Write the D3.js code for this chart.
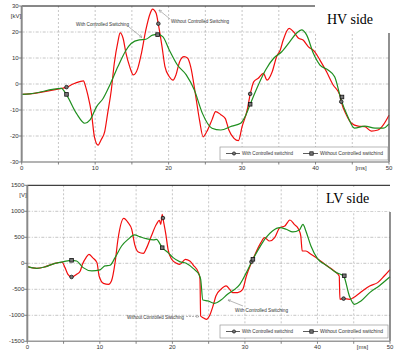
<!DOCTYPE html>
<html lang="en">
<head>
<meta charset="UTF-8">
<title>HV / LV side</title>
<script src="https://d3js.org/d3.v7.min.js"></script>
<style>
  body { margin: 0; background: #fff; }
  .tick-label { font-family: "Liberation Sans", Arial, sans-serif; font-size: 6px; fill: #333; }
  .note { font-family: "Liberation Sans", Arial, sans-serif; font-size: 5px; fill: #333; }
  .side { font-family: "Liberation Serif", "Times New Roman", serif; font-size: 14px; fill: #000; }
</style>
</head>
<body>
<div id="chart"></div>
<script>
// HV side (kV) - with controlled switching (green)
const hvWithT = [0, 1.1, 5.4, 6.1, 7.45, 8.6, 9.3, 10.2, 11.1, 12.0, 13.1, 14.2, 14.9, 16.0, 16.9, 17.8, 18.5, 19.2, 20.1, 21.2, 22.4, 23.5, 24.6, 25.9, 27.1, 28.6, 29.8, 30.4, 31.1, 32.0, 33.2, 34.3, 35.4, 36.5, 37.4, 38.1, 38.8, 39.7, 40.6, 41.7, 42.6, 43.5, 44.4, 45.3, 46.7, 48.1, 49.2, 50];
const hvWithV = [-4, -3.8, -1.7, -4.2, -11.3, -15.1, -13.8, -8.7, -5.5, -0.4, 6.7, 13, 15.6, 17, 17.2, 18.8, 19.1, 18.2, 13, 7.3, 3.5, -2.3, -11.3, -17, -17.7, -16.2, -15.1, -12.6, -7.8, -1.7, 5.4, 9.9, 12.4, 16.3, 19.5, 20.8, 18.8, 11.8, 7.3, 5.4, 2.8, -6.2, -12.6, -17, -16.2, -17, -17, -15.3];
// HV side - without controlled switching (red)
const hvWithoutT = [0, 1.1, 5.4, 6.1, 7.0, 7.9, 8.4, 8.7, 9.0, 9.5, 9.9, 10.4, 10.8, 11.3, 11.7, 12.2, 12.6, 13.1, 13.4, 13.8, 14.2, 14.7, 15.2, 15.8, 16.3, 16.9, 17.5, 17.8, 18.3, 18.6, 19.1, 19.5, 20.1, 20.6, 21.0, 21.5, 22.1, 22.6, 23.0, 23.7, 24.2, 24.7, 25.2, 25.9, 26.4, 27.1, 27.7, 28.2, 28.9, 29.5, 30.0, 30.7, 31.1, 31.6, 32.2, 32.9, 33.4, 34.1, 34.7, 35.2, 35.6, 36.4, 37.0, 37.7, 38.3, 39.0, 39.9, 40.6, 41.5, 42.4, 43.3, 43.5, 44.2, 44.9, 45.8, 46.7, 47.6, 48.5, 49.2, 50];
const hvWithoutV = [-4, -3.8, -1.7, -1.3, 0, 0.9, 1.2, -1, -4.2, -11.3, -20.3, -23.5, -21.5, -18.3, -11.3, -2.3, 7.9, 16.3, 19.7, 17.6, 11.8, 6.7, 3.5, 6, 11.8, 20.8, 27.2, 28.8, 27.2, 23, 14.4, 6.7, 2.8, 1.5, 3.5, 8.6, 10.5, 9.9, 6.7, -4.9, -13.8, -20.3, -18.3, -13.8, -10.6, -11.8, -13.2, -17.7, -20.9, -21.8, -16.4, -10, -4, 0.9, 2.2, 4.1, 1.5, 4.7, 10.5, 13.1, 16.9, 21.4, 20.1, 17.6, 16.9, 14.4, 12.4, 9.2, 4.7, -0.4, -4.2, -6.8, -11.9, -15.1, -16.2, -16.4, -18.1, -17.7, -15.8, -12];
// switching instants marked on the curves
const hvWithMarkT = [6.1, 18.5, 31.1, 43.6];
const hvWithMarkV = [-4.0, 19.0, -7.8, -5.0];
const hvWithoutMarkT = [6.1, 18.6, 31.1, 43.5];
const hvWithoutMarkV = [-1.2, 23.2, -3.8, -6.8];

// LV side (V) - with controlled switching (green)
const lvWithT = [0, 1.3, 2.4, 3.8, 5.0, 6.1, 6.8, 7.7, 8.9, 10.0, 10.7, 11.4, 12.1, 13.0, 13.9, 14.8, 15.5, 16.4, 17.4, 17.8, 18.6, 19.4, 20.1, 21.0, 21.9, 22.9, 23.7, 23.9, 24.2, 24.9, 25.8, 26.7, 27.6, 28.6, 29.3, 30.2, 31.1, 32.0, 32.9, 33.8, 34.8, 35.7, 36.6, 37.5, 38.0, 38.4, 39.1, 40.0, 41.2, 42.6, 43.6, 44.4, 45.1, 46.0, 47.2, 48.5, 50];
const lvWithV = [-64, -96, -70, 0, 32, 58, 45, -83, -147, -128, -51, -38, 109, 333, 462, 545, 513, 474, 449, 462, 301, 205, 109, 32, 0, -103, -224, -308, -705, -724, -769, -705, -596, -500, -404, -179, 77, 301, 494, 622, 686, 654, 603, 641, 750, 622, 333, 90, -38, -179, -244, -628, -788, -724, -564, -436, -260];
// LV side - without controlled switching (red)
const lvWithoutT = [0, 1.3, 2.4, 3.8, 4.8, 5.2, 5.6, 6.1, 6.8, 7.3, 7.6, 8.1, 8.5, 9.0, 9.6, 9.9, 10.5, 11.2, 11.6, 12.1, 12.5, 13.3, 13.9, 14.4, 14.8, 15.3, 16.0, 16.4, 17.1, 17.8, 18.2, 18.4, 18.6, 18.7, 19.1, 19.4, 19.9, 20.6, 21.0, 21.8, 22.4, 22.9, 23.6, 23.8, 23.9, 24.2, 24.7, 25.1, 25.6, 26.0, 26.7, 27.4, 27.9, 28.3, 29.0, 29.7, 30.2, 30.9, 31.5, 32.2, 32.7, 33.4, 34.1, 34.8, 35.5, 36.2, 36.8, 37.4, 37.7, 37.9, 38.4, 39.1, 40.0, 41.2, 42.3, 43.0, 43.1, 43.6, 44.4, 45.3, 46.2, 47.2, 48.3, 49.2, 50];
const lvWithoutV = [-64, -96, -70, 0, 20, -83, -212, -263, -212, -147, -19, 109, 173, 109, 13, -244, -385, -404, -340, 13, 462, 865, 782, 654, 365, 218, 192, 282, 526, 750, 827, 750, 942, 865, 558, 269, 77, 0, -19, 77, 45, -38, -179, -295, -1013, -1045, -1077, -1013, -821, -628, -500, -436, -500, -564, -564, -500, -244, 13, 205, 397, 494, 429, 494, 686, 718, 833, 750, 654, 526, 237, 237, 173, 90, -38, -147, -244, -692, -679, -692, -628, -532, -436, -372, -244, -120];
const lvWithMarkT = [6.1, 18.6, 31.1, 43.7];
const lvWithMarkV = [58, 300, 77, -240];
const lvWithoutMarkT = [6.1, 18.7, 30.9, 43.6];
const lvWithoutMarkV = [-263, 870, 30, -679];

// axis ticks and labels
const hvYTicks = [-30, -20, -10, 0, 10, 20, 30];
const lvYTicks = [-1500, -1000, -500, 0, 500, 1000, 1500];
const xTicks = [0, 5, 10, 15, 20, 25, 30, 35, 40, 45, 50];
const xLabels = [0, 10, 20, 30, 40, 50];
const legendNames = ["With Controlled switchind", "Without Controlled switchind"];

const red = "#f20d0d", green = "#1f8f1f";

const svg = d3.select("#chart").append("svg")
  .attr("width", 407).attr("height", 352)
  .style("display", "block");

const defs = svg.append("defs");
defs.append("marker")
  .attr("id", "arrow").attr("viewBox", "0 0 6 6")
  .attr("refX", 5.5).attr("refY", 3)
  .attr("markerWidth", 5).attr("markerHeight", 5)
  .attr("orient", "auto")
  .append("path").attr("d", "M0,0.5 L6,3 L0,5.5").attr("fill", "none")
  .attr("stroke", "#888").attr("stroke-width", 0.8);

function drawPanel(p) {
  const x = d3.scaleLinear().domain([0, 50]).range([p.left, p.right]);
  const y = d3.scaleLinear().domain([p.yTicks[0], p.yTicks[p.yTicks.length - 1]]).range([p.bottom, p.top]);
  const g = svg.append("g");

  // grid
  g.selectAll(".hgrid").data(p.yTicks.slice(1, -1)).join("line")
    .attr("x1", p.left).attr("x2", p.right)
    .attr("y1", d => y(d)).attr("y2", d => y(d))
    .attr("stroke", "#b8b8b8").attr("stroke-width", 0.8).attr("stroke-dasharray", "3,1.5,1,1.5");
  g.selectAll(".vgrid").data(xTicks.slice(1, -1)).join("line")
    .attr("x1", d => x(d)).attr("x2", d => x(d))
    .attr("y1", p.top).attr("y2", p.bottom)
    .attr("stroke", "#b8b8b8").attr("stroke-width", 0.8).attr("stroke-dasharray", "2,2");

  // curves
  const line = d3.line().curve(d3.curveMonotoneX).x(d => x(d[0])).y(d => y(d[1]));
  g.append("path").datum(d3.zip(p.withoutT, p.withoutV)).attr("d", line)
    .attr("fill", "none").attr("stroke", red).attr("stroke-width", 1.2);
  g.append("path").datum(d3.zip(p.withT, p.withV)).attr("d", line)
    .attr("fill", "none").attr("stroke", green).attr("stroke-width", 1.2);

  // markers
  g.selectAll(".mc").data(d3.zip(p.withoutMarkT, p.withoutMarkV)).join("circle")
    .attr("cx", d => x(d[0])).attr("cy", d => y(d[1])).attr("r", 1.8)
    .attr("fill", "#777").attr("stroke", "#111").attr("stroke-width", 0.8);
  g.selectAll(".ms").data(d3.zip(p.withMarkT, p.withMarkV)).join("rect")
    .attr("x", d => x(d[0]) - 1.8).attr("y", d => y(d[1]) - 1.8)
    .attr("width", 3.6).attr("height", 3.6)
    .attr("fill", "#777").attr("stroke", "#111").attr("stroke-width", 0.8);

  // label cover (white box) + frame
  g.append("rect").attr("x", p.cover[0]).attr("y", p.cover[1])
    .attr("width", p.cover[2]).attr("height", p.cover[3]).attr("fill", "#fff");
  g.append("line").attr("x1", p.left).attr("x2", p.topEnd)
    .attr("y1", p.top).attr("y2", p.top).attr("stroke", "#111").attr("stroke-width", 1);
  g.append("line").attr("x1", p.right).attr("x2", p.right)
    .attr("y1", p.rightStart).attr("y2", p.bottom).attr("stroke", "#555").attr("stroke-width", 1.3);
  g.append("line").attr("x1", p.left).attr("x2", p.left)
    .attr("y1", p.top).attr("y2", p.bottom).attr("stroke", "#8a8a8a").attr("stroke-width", 2);
  g.append("line").attr("x1", p.left).attr("x2", p.right)
    .attr("y1", p.bottom).attr("y2", p.bottom).attr("stroke", "#9a9a9a").attr("stroke-width", 1.5);

  // y ticks
  g.selectAll(".yt").data(p.yTicks).join("line")
    .attr("x1", p.left - 3).attr("x2", p.left)
    .attr("y1", d => y(d)).attr("y2", d => y(d)).attr("stroke", "#666").attr("stroke-width", 0.8);
  g.selectAll(".yl").data(p.yTicks).join("text").attr("class", "tick-label")
    .attr("x", p.left - 3).attr("y", d => y(d) + 2)
    .attr("text-anchor", "end").text(d => d);
  g.append("text").attr("class", "tick-label").attr("x", p.unitX).attr("y", y(p.yTicks[p.yTicks.length - 1]) + 12)
    .attr("text-anchor", "middle").text(p.unit);

  // x ticks
  g.selectAll(".xt").data(xTicks).join("line")
    .attr("x1", d => x(d)).attr("x2", d => x(d))
    .attr("y1", p.bottom).attr("y2", p.bottom + 2.5).attr("stroke", "#666").attr("stroke-width", 0.8);
  g.selectAll(".xl").data(xLabels).join("text").attr("class", "tick-label")
    .attr("x", d => x(d)).attr("y", p.bottom + 8).attr("text-anchor", "middle").text(d => d);
  g.append("text").attr("class", "tick-label").attr("x", x(46.2)).attr("y", p.bottom + 8)
    .attr("text-anchor", "middle").text("[ms]");

  // side title
  g.append("text").attr("class", "side").attr("x", p.titleX).attr("y", p.titleY).text(p.title);

  // annotations
  p.notes.forEach(n => {
    g.append("text").attr("class", "note").attr("x", n.tx).attr("y", n.ty)
      .attr("textLength", n.tw).attr("lengthAdjust", "spacingAndGlyphs").text(n.text);
    g.append("line").attr("x1", n.l[0]).attr("y1", n.l[1]).attr("x2", n.l[2]).attr("y2", n.l[3])
      .attr("stroke", "#999").attr("stroke-width", 0.7)
      .attr("stroke-dasharray", n.dash ? "2,1" : null)
      .attr("marker-end", "url(#arrow)");
  });

  // legend
  const lg = g.append("g");
  lg.append("rect").attr("x", 220).attr("y", p.legendY - 6.5).attr("width", 168).attr("height", 13)
    .attr("fill", "#fff").attr("stroke", "#999").attr("stroke-width", 0.7);
  const items = [
    {x0: 226, x1: 240, m: "circle", tx: 242, tw: 51, name: legendNames[0]},
    {x0: 303, x1: 318, m: "square", tx: 320, tw: 63, name: legendNames[1]}
  ];
  items.forEach(it => {
    lg.append("line").attr("x1", it.x0).attr("x2", it.x1)
      .attr("y1", p.legendY).attr("y2", p.legendY).attr("stroke", "#333").attr("stroke-width", 0.8);
    const mx = (it.x0 + it.x1) / 2 + 1;
    if (it.m === "circle") {
      lg.append("circle").attr("cx", mx).attr("cy", p.legendY).attr("r", 1.6)
        .attr("fill", "#777").attr("stroke", "#111").attr("stroke-width", 0.7);
    } else {
      lg.append("rect").attr("x", mx - 1.7).attr("y", p.legendY - 1.7).attr("width", 3.4).attr("height", 3.4)
        .attr("fill", "#777").attr("stroke", "#111").attr("stroke-width", 0.7);
    }
    lg.append("text").attr("class", "note").attr("x", it.tx).attr("y", p.legendY + 1.7)
      .attr("textLength", it.tw).attr("lengthAdjust", "spacingAndGlyphs").text(it.name);
  });
}

drawPanel({
  left: 21.7, right: 389, top: 6, bottom: 162,
  yTicks: hvYTicks, unit: "[kV]", unitX: 16,
  withT: hvWithT, withV: hvWithV, withoutT: hvWithoutT, withoutV: hvWithoutV,
  withMarkT: hvWithMarkT, withMarkV: hvWithMarkV, withoutMarkT: hvWithoutMarkT, withoutMarkV: hvWithoutMarkV,
  cover: [315, 0, 90, 33], topEnd: 315, rightStart: 33,
  title: "HV side", titleX: 327, titleY: 24,
  legendY: 153.5,
  notes: [
    {text: "With Controlled Switching", tx: 76, ty: 25.5, tw: 53, l: [129, 27, 142, 37.5]},
    {text: "Without Controlled Switching", tx: 171, ty: 22.5, tw: 58, l: [170, 19, 159, 10]}
  ]
});

drawPanel({
  left: 27.3, right: 390, top: 185.3, bottom: 341.3,
  yTicks: lvYTicks, unit: "[V]", unitX: 23,
  withT: lvWithT, withV: lvWithV, withoutT: lvWithoutT, withoutV: lvWithoutV,
  withMarkT: lvWithMarkT, withMarkV: lvWithMarkV, withoutMarkT: lvWithoutMarkT, withoutMarkV: lvWithoutMarkV,
  cover: [318, 187, 80, 24], topEnd: 390, rightStart: 212,
  title: "LV side", titleX: 326, titleY: 203,
  legendY: 331.5,
  notes: [
    {text: "Without Controlled Switching", tx: 127, ty: 318.5, tw: 57, l: [186, 316.5, 199, 316.5], dash: true},
    {text: "With Controlled Switching", tx: 235, ty: 311.5, tw: 53, l: [243, 306, 228, 300]}
  ]
});
</script>
</body>
</html>
